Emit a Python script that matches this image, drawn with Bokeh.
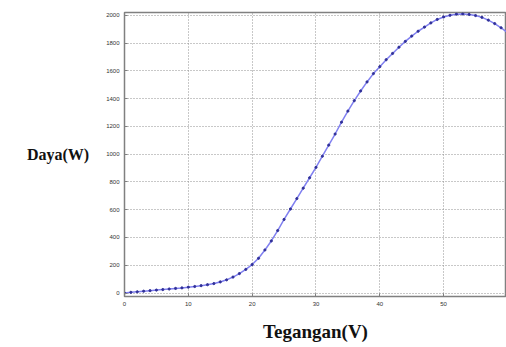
from bokeh.plotting import figure
from bokeh.embed import file_html
from bokeh.resources import INLINE
from bokeh.models import Range1d, FixedTicker

voltage = list(range(0, 61))
power = [0, 5, 9, 13, 17, 21, 25, 29, 33, 37,
         42, 47, 53, 60, 68, 80, 95, 115, 140, 170,
         205, 250, 310, 375, 450, 530, 605, 680, 755, 830,
         905, 985, 1065, 1145, 1230, 1310, 1385, 1455, 1520, 1580,
         1630, 1680, 1725, 1770, 1812, 1850, 1885, 1915, 1945, 1970,
         1988, 2000, 2008, 2010, 2006, 1998, 1985, 1965, 1940, 1910,
         1875]
x_ticks = [0, 10, 20, 30, 40, 50, 60]
y_ticks = [0, 200, 400, 600, 800, 1000, 1200, 1400, 1600, 1800, 2000]

p = figure(width=506, height=347, output_backend="svg", toolbar_location=None,
           x_range=Range1d(0, 59.85), y_range=Range1d(-25, 2020),
           min_border_top=12, min_border_right=0, min_border_left=124, min_border_bottom=51)

p.line(voltage, power, line_color="#8080f0", line_width=1.5)
p.scatter(voltage, power, size=2.2, color="#303098")

p.xaxis.ticker = FixedTicker(ticks=x_ticks)
p.yaxis.ticker = FixedTicker(ticks=y_ticks)
for ax in (p.xaxis, p.yaxis):
    ax.major_label_text_font_size = "6px"
    ax.major_label_text_color = "#333333"
    ax.axis_line_color = "#808080"
    ax.major_tick_line_color = "#808080"
    ax.major_tick_in = 3
    ax.major_tick_out = 0
    ax.minor_tick_line_color = None
    ax.axis_label_text_font = "Liberation Serif"
    ax.axis_label_text_font_style = "bold"
    ax.axis_label_text_color = "#111111"

p.xaxis.axis_label = "Tegangan(V)"
p.xaxis.axis_label_standoff = 12
p.xaxis.axis_label_text_font_size = "19px"
p.yaxis.axis_label = "Daya(W)"
p.yaxis.axis_label_orientation = "horizontal"
p.yaxis.axis_label_standoff = 14
p.yaxis.axis_label_text_font_size = "16px"

p.xgrid.ticker = FixedTicker(ticks=x_ticks)
p.ygrid.ticker = FixedTicker(ticks=y_ticks)
p.grid.grid_line_color = "#909090"
p.grid.grid_line_dash = "1 2"
p.grid.grid_line_width = 1

p.outline_line_color = "#808080"
p.outline_line_width = 1.5
p.background_fill_color = "white"
p.border_fill_color = "white"

open("out.html", "w").write(file_html(p, INLINE))
